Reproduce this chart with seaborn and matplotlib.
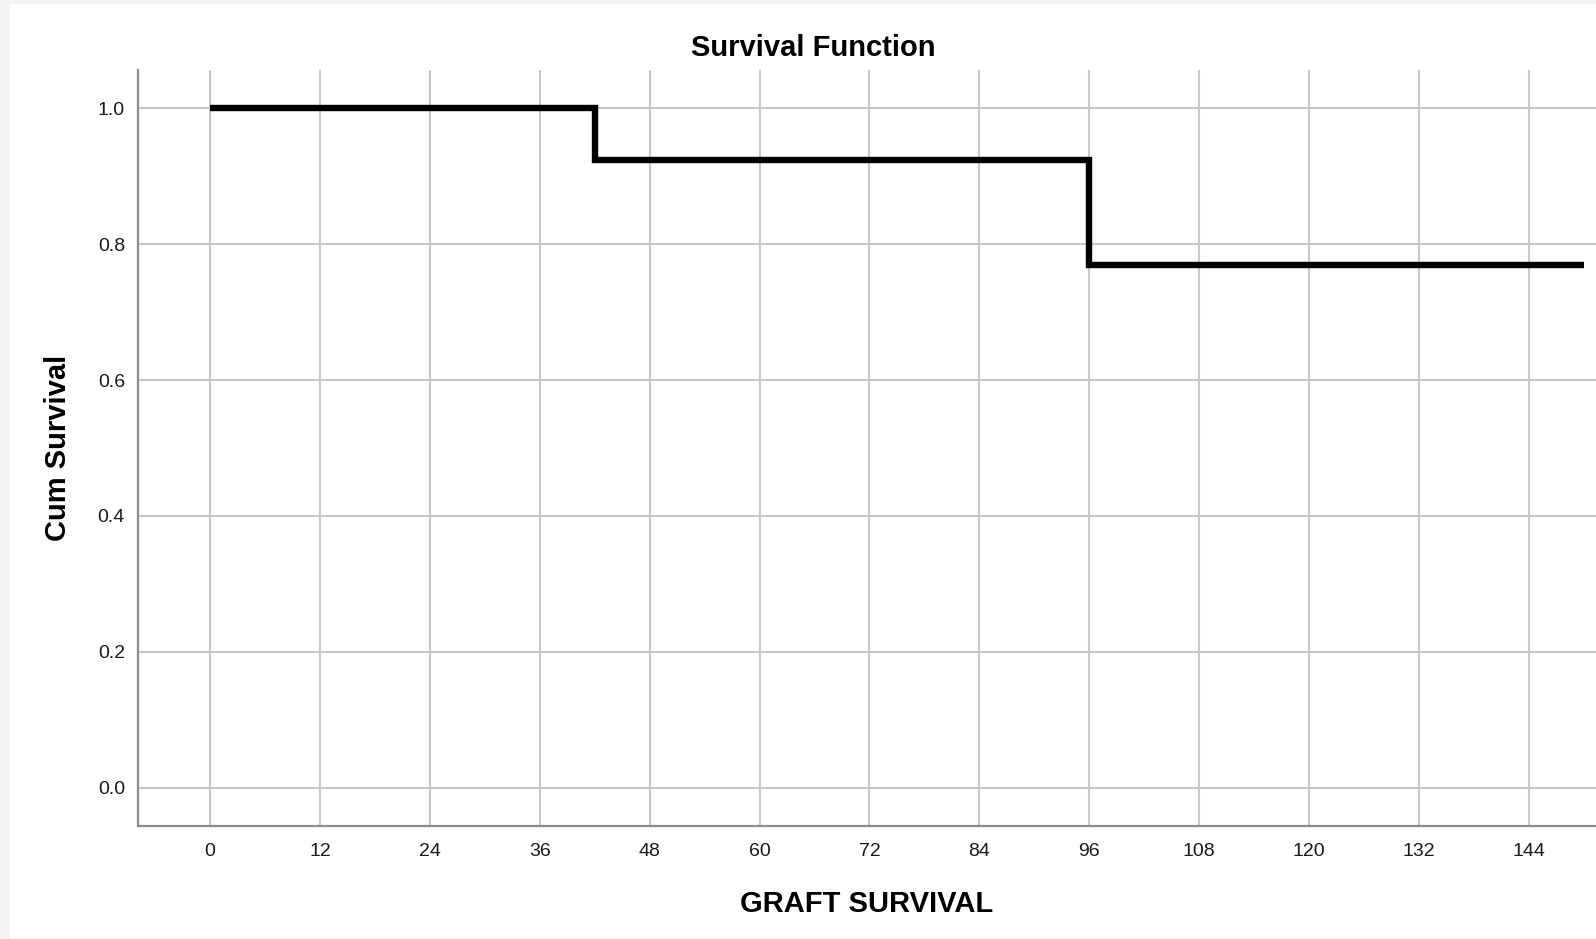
import matplotlib
matplotlib.use("Agg")
import matplotlib.pyplot as plt
import seaborn as sns
import pandas as pd
from matplotlib.patches import Rectangle

# Data
time_months = [0, 42, 96, 150]
cum_survival = [1.0, 0.923, 0.769, 0.769]
x_ticks = [0, 12, 24, 36, 48, 60, 72, 84, 96, 108, 120, 132, 144]
y_ticks = [0.0, 0.2, 0.4, 0.6, 0.8, 1.0]

sns.set_theme(style="white")
plt.rcParams['font.family'] = ['Liberation Sans', 'DejaVu Sans']

W, H = 1596, 939
fig = plt.figure(figsize=(W / 100, H / 100), dpi=100, facecolor='#f4f4f4')
bg = Rectangle((10 / W, 0), 1 - 10 / W, 1 - 4 / H,
               transform=fig.transFigure, facecolor='white',
               edgecolor='none', zorder=-10)
fig.patches.append(bg)

ax_left, ax_right = 137.5 / W, 1.0
ax_bottom, ax_top = (H - 826) / H, (H - 70) / H
ax = fig.add_axes([ax_left, ax_bottom, ax_right - ax_left, ax_top - ax_bottom])
ax.set_zorder(1)
ax.set_facecolor('white')

df = pd.DataFrame({"GRAFT SURVIVAL": time_months, "Cum Survival": cum_survival})
sns.lineplot(data=df, x="GRAFT SURVIVAL", y="Cum Survival", ax=ax,
             drawstyle='steps-post', color='black', linewidth=4.6,
             solid_capstyle='butt', solid_joinstyle='miter', zorder=3)

ax.set_xlim(-7.92, 151.34)
ax.set_ylim(-0.056, 1.056)
ax.set_xticks(x_ticks)
ax.set_xticklabels([str(t) for t in x_ticks])
ax.set_yticks(y_ticks)
ax.set_yticklabels([f"{t:.1f}" for t in y_ticks])

ax.grid(True, color='#c8c8c8', linewidth=1.5)
ax.set_axisbelow(True)
for s in ['top', 'right']:
    ax.spines[s].set_visible(False)
for s in ['left', 'bottom']:
    ax.spines[s].set_color('#8c8c8c')
    ax.spines[s].set_linewidth(1.6)

ax.tick_params(axis='both', length=0, labelsize=14, labelcolor='#1a1a1a')
ax.tick_params(axis='x', pad=12)
ax.tick_params(axis='y', pad=9)
ax.set_xlabel("")
ax.set_ylabel("")

fig.text(813 / W, 1 - 48 / H, "Survival Function", ha='center', va='center',
         fontsize=21, fontweight='bold', color='black')
fig.text(867 / W, 1 - 904 / H, "GRAFT SURVIVAL", ha='center', va='center',
         fontsize=21, fontweight='bold', color='black')
fig.text(58 / W, 1 - 448 / H, "Cum Survival", ha='center', va='center',
         rotation=90, fontsize=21, fontweight='bold', color='black')

fig.savefig("out.png", dpi=100, facecolor=fig.get_facecolor())
